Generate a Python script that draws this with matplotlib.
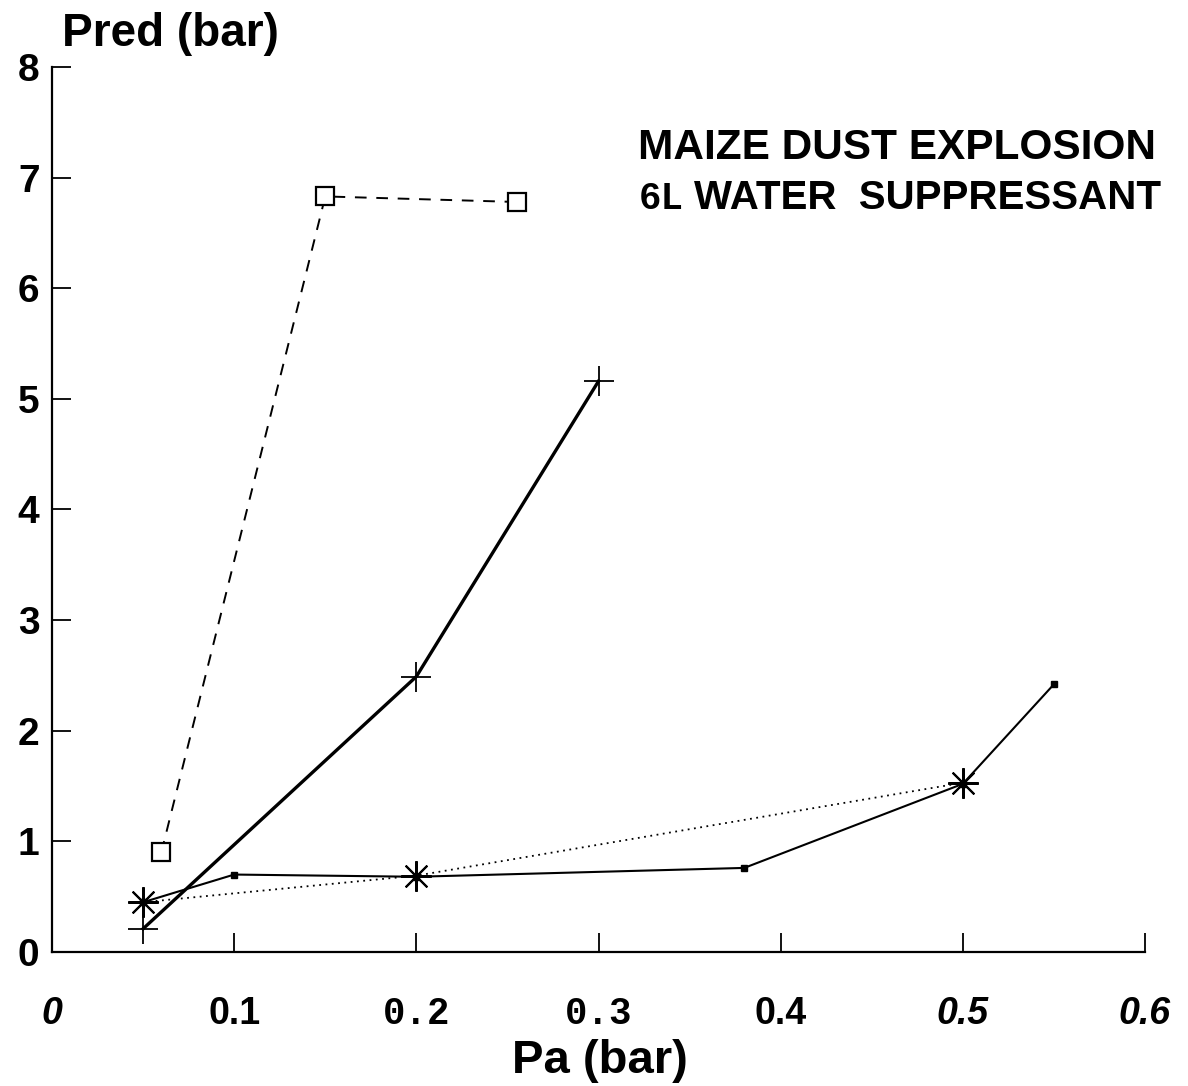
import matplotlib
matplotlib.use("Agg")
import matplotlib.pyplot as plt

# --- data ---
sq_x = [0.06, 0.15, 0.255]          # open squares, dashed
sq_y = [0.90, 6.83, 6.78]
plus_x = [0.05, 0.20, 0.30]         # plus, thick solid
plus_y = [0.21, 2.49, 5.16]
star_x = [0.05, 0.20, 0.50]         # asterisk, dotted
star_y = [0.45, 0.69, 1.53]
dot_x = [0.05, 0.10, 0.20, 0.38, 0.50, 0.55]   # small squares, thin solid
dot_y = [0.45, 0.70, 0.68, 0.76, 1.52, 2.42]

x_ticks = [0, 0.1, 0.2, 0.3, 0.4, 0.5, 0.6]
x_tick_labels = ["0", "0.1", "0.2", "0.3", "0.4", "0.5", "0.6"]
y_ticks = [0, 1, 2, 3, 4, 5, 6, 7, 8]

SANS = "Liberation Sans"
MONO = "Liberation Mono"

fig = plt.figure(figsize=(11.88, 10.86), dpi=100)
ax = fig.add_axes([0.0438, 0.1234, 0.92, 0.8149])

ax.plot(sq_x, sq_y, color="black", lw=1.4, ls=(0, (6, 5)),
        marker="s", ms=13, mfc="white", mec="black", mew=1.6, zorder=3)
ax.plot(plus_x, plus_y, color="black", lw=2.4,
        marker="+", ms=22, mew=1.3, zorder=3)
ax.plot(dot_x, dot_y, color="black", lw=1.5,
        marker="s", ms=4, zorder=2)
ax.plot(star_x, star_y, color="black", lw=1.3, ls=(0, (1, 2.5)),
        marker=(8, 2, 0), ms=22, mew=1.5, zorder=4)

ax.set_xlim(0, 0.6)
ax.set_ylim(0, 8)
ax.spines[["top", "right"]].set_visible(False)
ax.spines[["left", "bottom"]].set_linewidth(1.6)

ax.set_yticks(y_ticks)
ax.set_yticklabels([str(v) for v in y_ticks])
ax.set_xticks(x_ticks)
ax.set_xticklabels(x_tick_labels)
ax.tick_params(axis="both", direction="in", length=14, width=1.3)
ax.tick_params(axis="y", pad=9, labelsize=28)
ax.tick_params(axis="x", pad=32, labelsize=27)

for lab in ax.get_yticklabels():
    lab.set_fontfamily(SANS)
    lab.set_fontweight("bold")

# x tick labels come in mixed styles in the original scan
x_styles = [("italic", SANS), ("normal", SANS), ("normal", MONO),
            ("normal", MONO), ("normal", SANS), ("italic", SANS), ("italic", SANS)]
for lab, (style, fam) in zip(ax.get_xticklabels(), x_styles):
    lab.set_fontfamily(fam)
    lab.set_fontweight("bold")
    lab.set_fontstyle(style)

fig.text(0.052, 0.958, "Pred (bar)", fontsize=33, fontweight="bold",
         family=SANS, va="baseline", ha="left")
fig.text(0.505, 0.012, "Pa (bar)", fontsize=34, fontweight="bold",
         family=SANS, va="baseline", ha="center")

fig.text(0.537, 0.854, "MAIZE DUST EXPLOSION", fontsize=30.5, fontweight="bold",
         family=SANS, va="baseline", ha="left")
fig.text(0.538, 0.808, "6L", fontsize=27, fontweight="bold",
         family=MONO, va="baseline", ha="left")
fig.text(0.977, 0.808, "WATER  SUPPRESSANT", fontsize=29, fontweight="bold",
         family=SANS, va="baseline", ha="right")

fig.savefig("out.png", dpi=100, facecolor="white")
